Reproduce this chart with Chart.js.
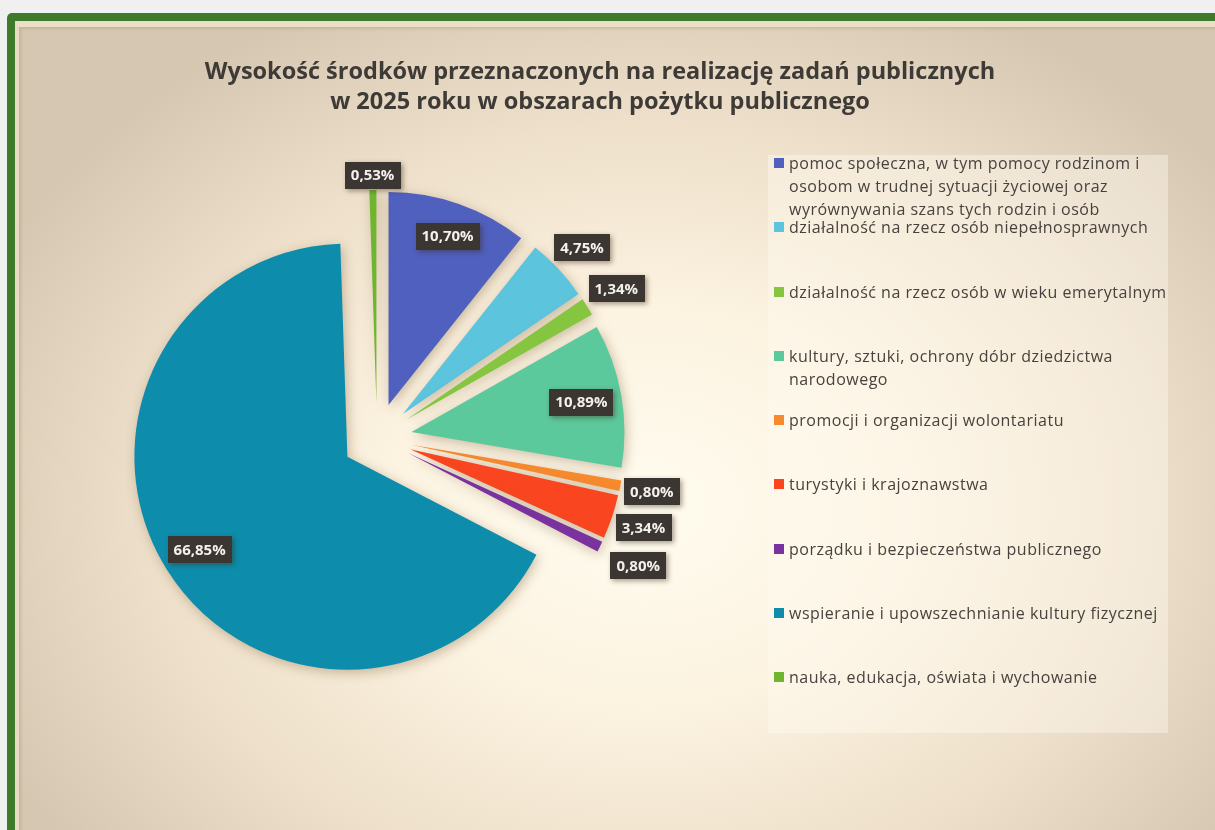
<!DOCTYPE html>
<html lang="pl">
<head>
<meta charset="utf-8">
<script src="https://cdn.jsdelivr.net/npm/chart.js@4.4.1/dist/chart.umd.min.js"></script>
<style>
  html, body { margin:0; padding:0; width:1215px; height:830px; overflow:hidden; background:#f0f0f0; font-family: "Open Sans", Lato, "Noto Sans", sans-serif; }
  #frame { position:absolute; left:7px; top:13px; width:1240px; height:850px; background:#3f7a2b; border-radius:5px; }
  #panel { position:absolute; left:15px; top:21px; width:1225px; height:830px; box-sizing:border-box;
           border-left:4px solid #e9dac3; border-top:6px solid #ecdec8;
           background: radial-gradient(ellipse 720px 560px at 625px 480px, #fffcef 0%, #fcf3e1 35%, #eee0ca 68%, #d6c7b2 100%);
           box-shadow: inset 2px 2px 3px rgba(150,120,90,0.25); }
  #legendbox { position:absolute; left:768px; top:155px; width:400px; height:578px; background:rgba(255,251,240,0.42); }
  #title { position:absolute; left:0; top:55px; width:1200px; text-align:center; color:#3e3a36; font-weight:700; font-size:23.5px; line-height:30px; letter-spacing:0px; }
  #legend { position:absolute; left:774px; top:152px; width:400px; }
  .item { position:relative; height:64.3px; }
  .sw { position:absolute; left:0; top:6px; width:10px; height:10px; }
  .tx { position:absolute; left:15px; top:0; width:384px; font-size:16px; line-height:23px; color:#47423d; letter-spacing:0.5px; }
  canvas { position:absolute; left:0; top:0; }
</style>
</head>
<body>
<div id="frame"></div>
<div id="panel"></div>
<div id="legendbox"></div>
<canvas id="c" width="1215" height="830"></canvas>
<div id="title">Wysokość środków przeznaczonych na realizację zadań publicznych<br>w 2025 roku w obszarach pożytku publicznego</div>
<div id="legend"></div>
<script>
const categories = [
  "pomoc społeczna, w tym pomocy rodzinom i osobom w trudnej sytuacji życiowej oraz wyrównywania szans tych rodzin i osób",
  "działalność na rzecz osób niepełnosprawnych",
  "działalność na rzecz osób w wieku emerytalnym",
  "kultury, sztuki, ochrony dóbr dziedzictwa narodowego",
  "promocji i organizacji wolontariatu",
  "turystyki i krajoznawstwa",
  "porządku i bezpieczeństwa publicznego",
  "wspieranie i upowszechnianie kultury fizycznej",
  "nauka, edukacja, oświata i wychowanie"
];
const shares = [10.70, 4.75, 1.34, 10.89, 0.80, 3.34, 0.80, 66.85, 0.53];
const colors = ["#5060be", "#5cc4dd", "#86c540", "#5cc99c", "#f88a2e", "#fa4620", "#7a339e", "#0d8dab", "#6fb52f"];
// label distance from exploded slice centre, as a fraction of the radius (style)
const labelDist = [0.84, 1.15, 1.16, 0.81, 1.15, 1.155, 1.2, 0.82, 1.07];
const EXPLODE = 35;

// legend
const lg = document.getElementById('legend');
categories.forEach((c, i) => {
  const it = document.createElement('div'); it.className = 'item';
  const sw = document.createElement('div'); sw.className = 'sw'; sw.style.background = colors[i];
  const tx = document.createElement('div'); tx.className = 'tx'; tx.textContent = c;
  it.appendChild(sw); it.appendChild(tx); lg.appendChild(it);
});

const fmt = v => v.toFixed(2).replace('.', ',') + '%';

const explodePlugin = {
  id: 'explode',
  beforeDatasetsDraw(chart) {
    const meta = chart.getDatasetMeta(0);
    const a = chart.chartArea;
    const cx = (a.left + a.right) / 2, cy = (a.top + a.bottom) / 2;
    meta.data.forEach(el => {
      const mid = (el.startAngle + el.endAngle) / 2;
      el.x = cx + Math.cos(mid) * EXPLODE;
      el.y = cy + Math.sin(mid) * EXPLODE;
    });
    const ctx = chart.ctx;
    ctx.save();
    ctx.shadowColor = 'rgba(120,90,50,0.38)';
    ctx.shadowBlur = 12;
    ctx.shadowOffsetX = 2;
    ctx.shadowOffsetY = 3;
  },
  afterDatasetsDraw(chart) {
    const ctx = chart.ctx;
    ctx.restore();
    const meta = chart.getDatasetMeta(0);
    ctx.save();
    ctx.font = 'bold 15px "Open Sans", Lato, sans-serif';
    ctx.textAlign = 'center';
    ctx.textBaseline = 'middle';
    meta.data.forEach((el, i) => {
      const mid = (el.startAngle + el.endAngle) / 2;
      const d = labelDist[i] * el.outerRadius;
      const x = el.x + Math.cos(mid) * d;
      const y = el.y + Math.sin(mid) * d;
      const t = fmt(shares[i]);
      const w = ctx.measureText(t).width + 12, h = 27;
      ctx.save();
      ctx.shadowColor = 'rgba(60,40,20,0.45)';
      ctx.shadowBlur = 5; ctx.shadowOffsetX = 2; ctx.shadowOffsetY = 2;
      ctx.fillStyle = '#3b3631';
      ctx.fillRect(Math.round(x - w / 2), Math.round(y - h / 2), Math.round(w), h);
      ctx.restore();
      ctx.fillStyle = '#f4f1ec';
      ctx.fillText(t, x, y + 1);
    });
    ctx.restore();
  }
};

new Chart(document.getElementById('c'), {
  type: 'pie',
  data: {
    labels: categories,
    datasets: [{
      data: shares,
      backgroundColor: colors,
      borderWidth: 0,
      clip: false
    }]
  },
  options: {
    responsive: false,
    animation: false,
    layout: { padding: { left: 164, right: 625, top: 225, bottom: 179 } },
    plugins: { legend: { display: false }, tooltip: { enabled: false } },
    events: []
  },
  plugins: [explodePlugin]
});
</script>
</body>
</html>
